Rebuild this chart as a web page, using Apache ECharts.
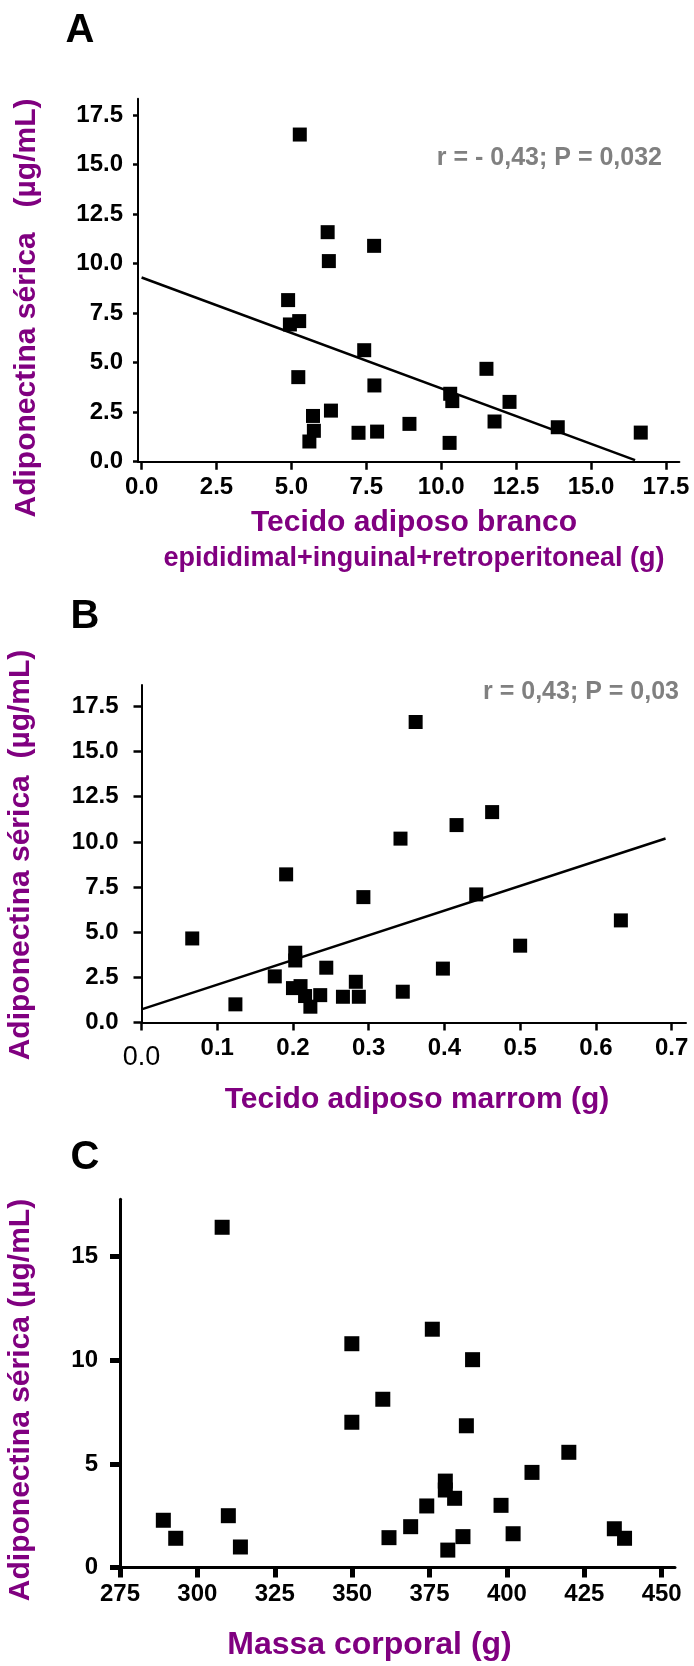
<!DOCTYPE html>
<html>
<head>
<meta charset="utf-8">
<script src="https://cdn.jsdelivr.net/npm/echarts@6/dist/echarts.min.js"></script>
<style>
  html, body { margin: 0; padding: 0; background: #fff; }
  #chart { width: 694px; height: 1666px; }
</style>
</head>
<body>
<div id="chart"></div>
<script>
// Panel A: tecido adiposo branco (g) vs adiponectina sérica
var fatWhite = [5.28, 6.21, 6.25, 7.76, 4.89, 4.95, 5.26, 7.43, 5.23, 7.77, 5.72, 5.75, 5.60,
  6.32, 7.24, 7.86, 8.94, 10.28, 10.30, 10.37, 11.51, 11.78, 12.28, 13.89, 16.66];
var adipoA = [16.52, 11.59, 10.13, 10.90, 8.16, 6.93, 7.10, 5.63, 4.27, 3.85, 2.31, 1.56, 1.02,
  2.58, 1.46, 1.52, 1.91, 0.95, 3.43, 3.06, 4.69, 2.03, 3.02, 1.74, 1.47];
var fitAx = [0, 16.47];
var fitAy = [9.3, 0.08];

// Panel B: tecido adiposo marrom (g)
var fatBrown = [0.362, 0.342, 0.416, 0.463, 0.191, 0.293, 0.442, 0.633, 0.067, 0.500, 0.203, 0.203,
  0.244, 0.398, 0.176, 0.283, 0.345, 0.200, 0.210, 0.216, 0.236, 0.266, 0.287, 0.223, 0.124];
var adipoB = [16.64, 10.18, 10.93, 11.65, 8.20, 6.94, 7.09, 5.65, 4.65, 4.25, 3.86, 3.43,
  3.03, 2.98, 2.55, 2.25, 1.70, 1.90, 2.01, 1.46, 1.51, 1.42, 1.42, 0.87, 1.00];
var fitBx = [0, 0.692];
var fitBy = [0.72, 10.19];

// Panel C: massa corporal (g)
var bodyMass = [308.0, 349.9, 375.9, 388.9, 359.9, 349.9, 386.9, 420.0, 408.1, 380.1, 380.1, 383.1,
  374.1, 398.1, 289.0, 310.0, 293.0, 313.9, 368.9, 361.9, 385.8, 380.9, 402.0, 434.7, 438.0];
var adipoC = [16.42, 10.80, 11.50, 10.03, 8.12, 7.01, 6.84, 5.56, 4.59, 4.17, 3.74, 3.34,
  2.97, 3.00, 2.28, 2.50, 1.41, 0.99, 1.97, 1.44, 1.49, 0.84, 1.63, 1.87, 1.41];

var ticksA_x = [0, 2.5, 5, 7.5, 10, 12.5, 15, 17.5];
var ticksA_y = [0, 2.5, 5, 7.5, 10, 12.5, 15, 17.5];
var ticksB_x = [0, 0.1, 0.2, 0.3, 0.4, 0.5, 0.6, 0.7];
var ticksB_y = [0, 2.5, 5, 7.5, 10, 12.5, 15, 17.5];
var ticksC_x = [275, 300, 325, 350, 375, 400, 425, 450];
var ticksC_y = [0, 5, 10, 15];

var statA = "r = - 0,43; P = 0,032";
var statB = "r = 0,43; P = 0,03";

var FONT = "'Liberation Sans', Arial, sans-serif";
var PURPLE = "#800080";

function zip(xs, ys) {
  return xs.map(function (x, i) { return [x, ys[i]]; });
}

function axisBase(opts) {
  return {
    type: "value",
    gridIndex: opts.grid,
    min: opts.min,
    max: opts.max,
    splitLine: { show: false },
    axisLine: { show: true, onZero: false, lineStyle: { color: "#000", width: opts.lineW || 2 } },
    axisTick: {
      show: true,
      customValues: opts.ticks,
      length: opts.tickLen || 6,
      lineStyle: { color: "#000", width: opts.tickW || 2.5 }
    },
    axisLabel: {
      customValues: opts.ticks,
      margin: opts.margin || 14,
      color: "#000",
      fontFamily: FONT,
      fontWeight: "bold",
      fontSize: opts.fontSize || 24,
      formatter: opts.fmt,
      rich: opts.rich
    }
  };
}

function fixed1(v) { return v.toFixed(1); }

function label(x, y, text, size, color, extra) {
  var el = {
    type: "text", x: x, y: y,
    style: {
      text: text, font: "bold " + size + "px " + FONT, fill: color,
      textAlign: "center", textVerticalAlign: "middle"
    }
  };
  if (extra) {
    for (var k in extra) el[k] = extra[k];
  }
  return el;
}

var chart = echarts.init(document.getElementById("chart"));

var statStyleA = label(662, 158, statA, 25, "#808080");
statStyleA.style.textAlign = "right";
var statStyleB = label(679, 692.5, statB, 25, "#808080");
statStyleB.style.textAlign = "right";

chart.setOption({
  animation: false,
  backgroundColor: "#fff",
  grid: [
    { left: 138, top: 98.7, width: 541.4, height: 363 },
    { left: 141.5, top: 685, width: 544.5, height: 337.4 },
    { left: 120, top: 1199.3, width: 555, height: 368.2 }
  ],
  xAxis: [
    axisBase({ grid: 0, min: -0.12, max: 17.95, ticks: ticksA_x, fmt: fixed1, tickLen: 8, margin: 14 }),
    axisBase({
      grid: 1, min: 0, max: 0.719, ticks: ticksB_x, tickLen: 8, margin: 14,
      fmt: function (v) { return v === 0 ? "{zero|0.0}" : v.toFixed(1); },
      rich: { zero: { fontWeight: "normal", fontSize: 27, fontFamily: FONT, color: "#000", padding: [8, 0, 0, 0] } }
    }),
    axisBase({ grid: 2, min: 275, max: 454.3, ticks: ticksC_x, lineW: 3, tickW: 5, tickLen: 10, margin: 15,
      fmt: function (v) { return String(v); } })
  ],
  yAxis: [
    axisBase({ grid: 0, min: 0, max: 18.33, ticks: ticksA_y, fmt: fixed1, tickLen: 5, margin: 15 }),
    axisBase({ grid: 1, min: 0, max: 18.69, ticks: ticksB_y, fmt: fixed1, tickLen: 8, margin: 23 }),
    axisBase({ grid: 2, min: 0, max: 17.77, ticks: ticksC_y, lineW: 3, tickW: 5, tickLen: 10, margin: 22,
      fmt: function (v) { return String(v); } })
  ],
  series: [
    {
      type: "line", xAxisIndex: 0, yAxisIndex: 0, data: zip(fitAx, fitAy),
      symbol: "none", lineStyle: { color: "#000", width: 2.5 }, silent: true
    },
    {
      type: "scatter", xAxisIndex: 0, yAxisIndex: 0, data: zip(fatWhite, adipoA),
      symbol: "rect", symbolSize: 14, itemStyle: { color: "#000", opacity: 1 }
    },
    {
      type: "line", xAxisIndex: 1, yAxisIndex: 1, data: zip(fitBx, fitBy),
      symbol: "none", lineStyle: { color: "#000", width: 2.5 }, silent: true
    },
    {
      type: "scatter", xAxisIndex: 1, yAxisIndex: 1, data: zip(fatBrown, adipoB),
      symbol: "rect", symbolSize: 14, itemStyle: { color: "#000", opacity: 1 }
    },
    {
      type: "scatter", xAxisIndex: 2, yAxisIndex: 2, data: zip(bodyMass, adipoC),
      symbol: "rect", symbolSize: 15, itemStyle: { color: "#000", opacity: 1 }
    }
  ],
  graphic: [
    // panel letters
    label(80, 31, "A", 40, "#000"),
    label(85, 617, "B", 40, "#000"),
    label(85, 1157.5, "C", 40, "#000"),
    // statistics
    statStyleA,
    statStyleB,
    // x titles
    label(414, 523, "Tecido adiposo branco", 30, PURPLE),
    label(414, 559, "epididimal+inguinal+retroperitoneal (g)", 27, PURPLE),
    label(417, 1100, "Tecido adiposo marrom (g)", 30, PURPLE),
    label(369.5, 1645, "Massa corporal (g)", 32, PURPLE),
    // y titles
    label(27, 308, "Adiponectina sérica   (µg/mL)", 30, PURPLE, { rotation: Math.PI / 2 }),
    label(21, 855, "Adiponectina sérica  (µg/mL)", 30, PURPLE, { rotation: Math.PI / 2 }),
    label(21, 1400, "Adiponectina sérica (µg/mL)", 30, PURPLE, { rotation: Math.PI / 2 })
  ]
});
</script>
</body>
</html>
